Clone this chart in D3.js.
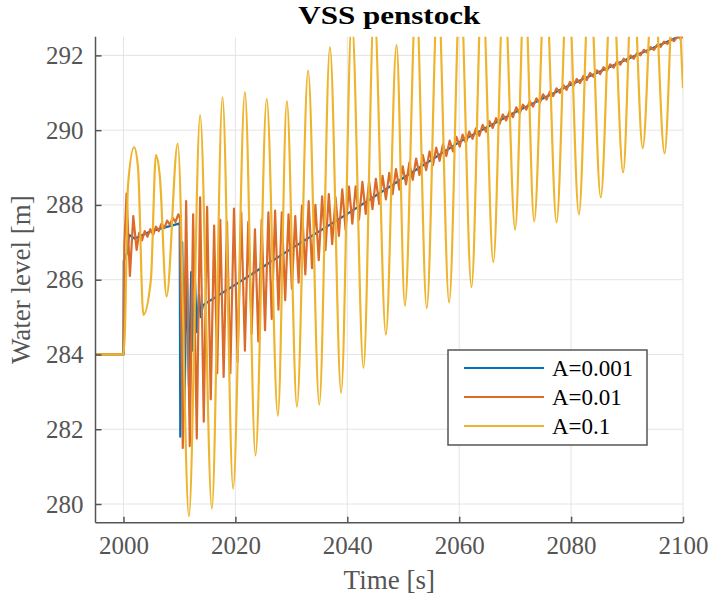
<!DOCTYPE html>
<html>
<head>
<meta charset="utf-8">
<script src="https://cdn.jsdelivr.net/npm/d3@7"></script>
<style>
  body { margin: 0; background: #fff; }
  text { font-family: "Liberation Serif", "Times New Roman", serif; }
</style>
</head>
<body>
<svg id="chart" width="712" height="599"></svg>
<script>
// ---- data -------------------------------------------------------------
const chartTitle = "VSS penstock";
const xLabel = "Time [s]";
const yLabel = "Water level [m]";
const xTicks = [2000, 2020, 2040, 2060, 2080, 2100];
const yTicks = [280, 282, 284, 286, 288, 290, 292];
const seriesNames = ["A=0.001", "A=0.01", "A=0.1"];
const seriesColors = ["#0072BD", "#DA6B2A", "#EEB42E"];

// water level [m] vs time [s], A = 0.001
const levelA0001 = [
  [1995, 284.0], [2000.0, 284.0], [2000.05, 286.5], [2000.6, 286.7], [2001.0, 287.2],
  [2002.0, 287.1], [2005.0, 287.3], [2009.9, 287.5], [2010.05, 287.45],
  [2010.15, 281.8], [2010.5, 287.0], [2010.9, 282.4], [2011.3, 286.6], [2011.7, 283.15],
  [2012.1, 286.2], [2012.4, 284.1], [2012.8, 285.95], [2013.1, 284.6], [2013.5, 285.6],
  [2013.8, 285.0], [2014.2, 285.32], [2020, 285.87], [2030, 286.83], [2040, 287.76],
  [2050, 288.72], [2060, 289.68], [2070, 290.48], [2080, 291.22], [2090, 291.9], [2100, 292.55]
];

// water level [m] vs time [s], A = 0.01
const levelA001 = [
  [1995, 284.0], [2000.0, 284.0], [2000.15, 286.9], [2000.55, 288.3], [2001.15, 286.1],
  [2001.75, 287.7], [2002.35, 286.8], [2002.8, 287.25], [2003.3, 287.05], [2003.8, 287.3],
  [2004.3, 287.15], [2004.8, 287.35], [2005.3, 287.2], [2005.8, 287.42], [2006.3, 287.3],
  [2006.8, 287.5], [2007.3, 287.38], [2007.8, 287.58], [2008.3, 287.47], [2008.8, 287.65],
  [2009.3, 287.55], [2009.8, 287.75], [2010.1, 287.65],
  [2010.6, 281.5], [2011.2, 288.1], [2011.85, 281.55], [2012.45, 287.75], [2013.1, 281.75],
  [2013.7, 288.2], [2014.35, 282.2], [2014.95, 287.95], [2015.6, 282.8], [2016.2, 287.45],
  [2016.75, 283.5], [2017.3, 287.6], [2017.9, 283.4], [2018.5, 287.55], [2019.1, 283.5],
  [2019.75, 287.9], [2020.4, 283.8], [2021.05, 287.8], [2021.7, 284.1], [2022.3, 287.55],
  [2022.9, 284.55], [2023.5, 287.35], [2024.1, 284.35], [2024.7, 287.6], [2025.3, 284.65],
  [2025.9, 287.8], [2026.5, 284.95], [2027.1, 287.85], [2027.7, 285.2], [2028.3, 287.8],
  [2028.9, 285.45], [2029.5, 287.75], [2030.1, 285.76], [2030.7, 287.7], [2031.3, 285.92],
  [2031.9, 287.98], [2032.5, 286.14], [2033.1, 288.1], [2033.7, 286.31], [2034.3, 288.0],
  [2034.9, 286.52], [2035.5, 288.23], [2036.1, 286.79], [2036.7, 288.29], [2037.3, 286.95],
  [2037.9, 288.2], [2038.5, 287.17], [2039.1, 288.42], [2039.7, 287.33], [2040.3, 288.49],
  [2040.9, 287.5], [2041.5, 288.5], [2042.1, 287.61], [2042.7, 288.62], [2043.3, 287.76],
  [2043.9, 288.63], [2044.5, 287.89], [2045.1, 288.7], [2045.7, 288.03], [2046.3, 288.78],
  [2046.9, 288.15], [2047.5, 288.86], [2048.1, 288.29], [2048.7, 288.96], [2049.3, 288.41],
  [2049.9, 289.03], [2050.5, 288.55], [2051.1, 289.13], [2051.7, 288.67], [2052.3, 289.24],
  [2052.9, 288.8], [2053.5, 289.33], [2054.1, 288.93], [2054.7, 289.43], [2055.3, 289.06],
  [2055.9, 289.53], [2056.5, 289.18], [2057.1, 289.62], [2057.7, 289.31], [2058.3, 289.72],
  [2058.9, 289.43], [2059.5, 289.82], [2060.1, 289.56], [2060.6, 289.88], [2061.2, 289.66],
  [2061.8, 289.96], [2062.4, 289.77], [2063.0, 290.05], [2063.6, 289.85], [2064.2, 290.14],
  [2064.8, 289.96], [2065.4, 290.24], [2066.0, 290.06], [2066.6, 290.32], [2067.2, 290.16],
  [2067.8, 290.42], [2068.4, 290.26], [2069.0, 290.5], [2069.6, 290.35], [2070.2, 290.61],
  [2070.8, 290.45], [2071.4, 290.68], [2072.0, 290.55], [2072.6, 290.77], [2073.2, 290.63],
  [2073.8, 290.85], [2074.4, 290.73], [2075.0, 290.96], [2075.6, 290.82], [2076.2, 291.03],
  [2076.8, 290.91], [2077.4, 291.12], [2078.0, 291.0], [2078.6, 291.21], [2079.2, 291.08],
  [2079.8, 291.29], [2080.4, 291.18], [2081.0, 291.37], [2081.6, 291.26], [2082.2, 291.45],
  [2082.8, 291.34], [2083.4, 291.53], [2084.0, 291.43], [2084.6, 291.6], [2085.2, 291.5],
  [2085.8, 291.68], [2086.4, 291.59], [2087.0, 291.76], [2087.6, 291.67], [2088.2, 291.84],
  [2088.8, 291.75], [2089.4, 291.91], [2090.0, 291.83], [2090.6, 292.0], [2091.2, 291.91],
  [2091.8, 292.07], [2092.4, 292.0], [2093.0, 292.15], [2093.6, 292.07], [2094.2, 292.22],
  [2094.8, 292.15], [2095.4, 292.29], [2096.0, 292.23], [2096.6, 292.37], [2097.2, 292.31],
  [2097.8, 292.44], [2098.4, 292.38], [2099.0, 292.5], [2099.6, 292.44], [2100.0, 292.52]
];

// water level [m] vs time [s], A = 0.1 (turning points of the swing)
const levelA01 = [
  [1995, 284.0], [2000.0, 284.0], [2000.25, 284.6], [2000.8, 288.5], [2001.9, 289.54],
  [2002.6, 289.0], [2003.55, 285.06], [2004.9, 286.0], [2005.8, 289.33], [2006.5, 288.76],
  [2007.7, 285.55], [2009.7, 289.64], [2011.7, 279.67], [2013.7, 290.4], [2015.8, 279.88],
  [2017.7, 290.88], [2019.6, 280.41], [2021.7, 291.02], [2023.6, 281.3], [2025.6, 290.84],
  [2027.6, 282.36], [2029.2, 290.78], [2031.0, 282.6], [2033.0, 291.59], [2035.0, 282.66],
  [2036.9, 292.22], [2038.9, 282.97], [2040.8, 293.0], [2042.9, 283.64], [2044.8, 293.3],
  [2046.9, 284.53], [2048.8, 292.28], [2050.3, 285.3], [2052.3, 293.6], [2054.2, 285.24],
  [2056.2, 293.8], [2058.2, 285.39], [2060.2, 293.9], [2062.2, 285.8], [2064.1, 294.0],
  [2066.1, 286.47], [2068.0, 294.1], [2070.0, 287.34], [2071.7, 294.0], [2073.4, 287.56],
  [2075.4, 294.2], [2077.4, 287.53], [2079.4, 294.3], [2081.4, 287.75], [2083.3, 294.3],
  [2085.3, 288.2], [2087.3, 294.4], [2089.3, 288.87], [2091.0, 294.4], [2092.8, 289.52],
  [2094.7, 294.4], [2096.7, 289.38], [2098.5, 294.5], [2100.0, 291.12]
];

// ---- layout -----------------------------------------------------------
const svg = d3.select("#chart");
const plot = { left: 95.5, right: 683, top: 36.7, bottom: 522.7 };

const x = d3.scaleLinear().domain([1995, 2100]).range([plot.left, plot.right]);
const y = d3.scaleLinear().domain([279.5, 292.5]).range([plot.bottom, plot.top]);

const axisColor = "#555555";
const gridColor = "#e4e4e4";

// grid
const grid = svg.append("g");
grid.selectAll(".gx").data(xTicks).enter().append("line")
  .attr("x1", d => x(d)).attr("x2", d => x(d))
  .attr("y1", plot.top).attr("y2", plot.bottom)
  .attr("stroke", gridColor).attr("stroke-width", 1);
grid.selectAll(".gy").data(yTicks).enter().append("line")
  .attr("x1", plot.left).attr("x2", plot.right)
  .attr("y1", d => y(d)).attr("y2", d => y(d))
  .attr("stroke", gridColor).attr("stroke-width", 1);

// clip region for the curves
svg.append("defs").append("clipPath").attr("id", "plotClip")
  .append("rect")
  .attr("x", plot.left).attr("y", plot.top)
  .attr("width", plot.right - plot.left).attr("height", plot.bottom - plot.top);

const lines = svg.append("g").attr("clip-path", "url(#plotClip)");

const straight = d3.line().x(d => x(d[0])).y(d => y(d[1])).curve(d3.curveLinear);
const smooth = d3.line().x(d => x(d[0])).y(d => y(d[1])).curve(d3.curveMonotoneX);

lines.append("path").datum(levelA0001).attr("d", straight)
  .attr("fill", "none").attr("stroke", seriesColors[0]).attr("stroke-width", 2.2)
  .attr("stroke-linejoin", "round");
lines.append("path").datum(levelA001).attr("d", straight)
  .attr("fill", "none").attr("stroke", seriesColors[1]).attr("stroke-width", 2.2)
  .attr("stroke-linejoin", "round");
lines.append("path").datum(levelA01).attr("d", smooth)
  .attr("fill", "none").attr("stroke", seriesColors[2]).attr("stroke-width", 2.2)
  .attr("stroke-linejoin", "round");

// axes (ticks pointing inward, no box)
const xAxis = d3.axisBottom(x).tickValues(xTicks).tickSize(-6).tickPadding(14).tickFormat(d3.format("d"));
const yAxis = d3.axisLeft(y).tickValues(yTicks).tickSize(-6).tickPadding(12).tickFormat(d3.format("d"));

const gx = svg.append("g").attr("transform", `translate(0,${plot.bottom})`).call(xAxis);
const gy = svg.append("g").attr("transform", `translate(${plot.left},0)`).call(yAxis);

[gx, gy].forEach(g => {
  g.select(".domain").attr("stroke", axisColor).attr("stroke-width", 1.5);
  g.selectAll(".tick line").attr("stroke", axisColor).attr("stroke-width", 1.5);
  g.selectAll(".tick text")
    .attr("fill", axisColor)
    .style("font-family", "'Liberation Serif', serif")
    .style("font-size", "25px");
});
gx.select(".domain").attr("d", `M${plot.left},0H${plot.right}`);
gy.select(".domain").attr("d", `M0,${plot.bottom}V${plot.top}`);

// title and axis labels
svg.append("text")
  .attr("x", (plot.left + plot.right) / 2).attr("y", 24)
  .attr("text-anchor", "middle")
  .attr("font-weight", "bold").attr("font-size", 25).attr("fill", "#000")
  .attr("textLength", 182).attr("lengthAdjust", "spacingAndGlyphs")
  .text(chartTitle);

svg.append("text")
  .attr("x", (plot.left + plot.right) / 2).attr("y", 589)
  .attr("text-anchor", "middle")
  .attr("font-size", 27).attr("fill", axisColor)
  .text(xLabel);

svg.append("text")
  .attr("transform", `translate(30,${(plot.top + plot.bottom) / 2}) rotate(-90)`)
  .attr("text-anchor", "middle")
  .attr("font-size", 27).attr("fill", axisColor)
  .text(yLabel);

// legend
const legend = svg.append("g");
legend.append("rect")
  .attr("x", 448).attr("y", 350).attr("width", 199).attr("height", 95)
  .attr("fill", "#fff").attr("stroke", axisColor).attr("stroke-width", 1.5);
const rowY = d3.scalePoint().domain(seriesNames).range([368, 426]);
const rows = legend.selectAll(".row").data(seriesNames).enter().append("g");
rows.append("line")
  .attr("x1", 464).attr("x2", 544)
  .attr("y1", d => rowY(d)).attr("y2", d => rowY(d))
  .attr("stroke", (d, i) => seriesColors[i]).attr("stroke-width", 2.2);
rows.append("text")
  .attr("x", 552).attr("y", d => rowY(d))
  .attr("dy", "0.35em")
  .attr("font-size", 23).attr("fill", "#000")
  .text(d => d);
</script>
</body>
</html>
